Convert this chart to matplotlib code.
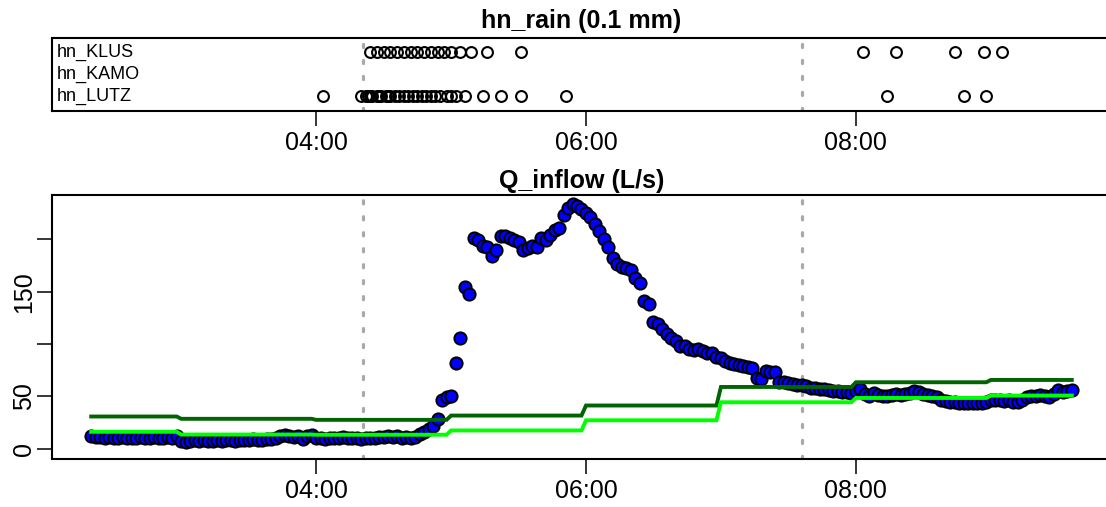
import numpy as np
import matplotlib
matplotlib.use("Agg")
import matplotlib.pyplot as plt
import matplotlib.dates as mdates
from datetime import datetime, timedelta

plt.rcParams['font.family'] = ['Liberation Sans', 'DejaVu Sans']

BASE_DAY = datetime(2000, 1, 1)


def hm(s):
    h, m = s.split(":")
    return BASE_DAY + timedelta(hours=int(h), minutes=int(m))


# ---------------- data ----------------
rain_stations = ["hn_KLUS", "hn_KAMO", "hn_LUTZ"]
rain_klus = ["04:24", "04:27", "04:30", "04:33", "04:36", "04:39", "04:42",
             "04:45", "04:48", "04:51", "04:54", "04:57", "05:00", "05:04",
             "05:09", "05:16", "05:31", "08:03", "08:18", "08:44", "08:57",
             "09:05"]
rain_kamo = []
rain_lutz = ["04:03", "04:20", "04:22", "04:23", "04:24", "04:25", "04:27",
             "04:28", "04:29", "04:31", "04:32", "04:33", "04:35", "04:37",
             "04:39", "04:41", "04:43", "04:45", "04:47", "04:49", "04:51",
             "04:53", "04:55", "04:58", "05:00", "05:02", "05:06", "05:14",
             "05:22", "05:31", "05:51", "08:14", "08:48", "08:58"]

# measured inflow, one value every 2 minutes starting at 02:20
flow_start = "02:20"
flow_step_min = 2
q_inflow = [
    12, 11, 11, 10, 11,      # 02:20
    10, 10, 11, 10, 10,      # 02:30
    10, 11, 10, 10, 11,      # 02:40
    10, 10, 11, 10, 12,      # 02:50
    7, 6, 7, 8, 7,           # 03:00
    8, 7, 7, 8, 7,           # 03:10
    8, 8, 7, 8, 8,           # 03:20
    8, 9, 8, 8, 9,           # 03:30
    9, 10, 12, 13, 12,       # 03:40
    11, 12, 9, 12, 13,       # 03:50
    10, 10, 9, 10, 10,       # 04:00
    10, 11, 10, 10, 10,      # 04:10
    9, 10, 10, 10, 11,       # 04:20
    11, 12, 11, 12, 10,      # 04:30
    11, 10, 11, 14, 16,      # 04:40
    19, 22, 28, 47, 49,      # 04:50
    50, 82, 106, 154, 148,   # 05:00
    201, 199, 194, 193, 184,  # 05:10
    190, 203, 203, 201, 199,  # 05:20
    197, 190, 192, 194, 193,  # 05:30
    201, 199, 204, 209, 211,  # 05:40
    223, 230, 234, 232, 229,  # 05:50
    225, 221, 215, 208, 200,  # 06:00
    193, 182, 176, 174, 173,  # 06:10
    171, 163, 158, 141, 138,  # 06:20
    121, 119, 114, 110, 106,  # 06:30
    103, 98, 98, 95, 94,     # 06:40
    95, 93, 91, 91, 88,      # 06:50
    87, 84, 82, 81, 80,      # 07:00
    79, 78, 77, 68, 67,      # 07:10
    74, 73, 73, 64, 64,      # 07:20
    63, 62, 61, 61, 60,      # 07:30
    58, 58, 57, 57, 56,      # 07:40
    55, 55, 54, 54, 53,      # 07:50
    55, 57, 52, 50, 53,      # 08:00
    51, 50, 50, 51, 52,      # 08:10
    51, 52, 53, 55, 54,      # 08:20
    52, 51, 50, 49, 47,      # 08:30
    46, 45, 45, 44, 44,      # 08:40
    44, 44, 44, 44, 45,      # 08:50
    47, 47, 47, 46, 47,      # 09:00
    45, 45, 47, 49, 50,      # 09:10
    50, 51, 50, 49, 52,      # 09:20
    56, 54, 55, 56,          # 09:30
]

# hourly reference levels (upper / lower)
ref_hours = ["02:00", "03:00", "04:00", "05:00", "06:00", "07:00", "08:00", "09:00"]
q_upper = [30.8, 28.6, 27.6, 31.7, 41.3, 59.0, 63.5, 65.7]
q_lower = [16.2, 13.6, 13.4, 17.5, 27.2, 44.4, 48.5, 50.8]

event_marks = ["04:21", "07:36"]
x_ticks = ["04:00", "06:00", "08:00"]
y_ticks = [0, 50, 100, 150, 200]
y_tick_labels = ["0", "50", "", "150", ""]

# ---------------- derived series ----------------
step = timedelta(minutes=flow_step_min)
flow_times = [hm(flow_start) + i * step for i in range(len(q_inflow))]
t_first, t_last = flow_times[0], flow_times[-1]


def hourly_path(hours, values):
    xs, ys = [t_first], [values[0]]
    for i in range(1, len(hours)):
        h = hm(hours[i])
        xs += [h - step, h]
        ys += [values[i - 1], values[i]]
    xs.append(t_last)
    ys.append(values[-1])
    return xs, ys


span = t_last - t_first
xlim = (t_first - 0.04 * span, t_last + 0.04 * span)

# ---------------- figure ----------------
W, H = 1106, 507
fig = plt.figure(figsize=(W / 100, H / 100), dpi=100)
left_px, right_px = 52, 1111
ax_top = fig.add_axes([left_px / W, 1 - 111 / H, (right_px - left_px) / W, 73.5 / H])
ax_bot = fig.add_axes([left_px / W, 1 - 458.5 / H, (right_px - left_px) / W, 263.5 / H])

tick_fs = 18
title_fs = 18
for ax in (ax_top, ax_bot):
    ax.set_xlim(*xlim)
    for sp in ax.spines.values():
        sp.set_linewidth(1.5)
    ax.set_xticks([hm(t) for t in x_ticks])
    ax.xaxis.set_major_formatter(mdates.DateFormatter("%H:%M"))
    ax.tick_params(axis="x", direction="out", length=10.5, width=1.1,
                   labelsize=tick_fs, pad=4)
    ax.tick_params(axis="y", direction="out", length=10.5, width=1.1,
                   labelsize=tick_fs, pad=1)
    for ev in event_marks:
        ax.axvline(hm(ev), color="#A9A9A9", lw=2.3, linestyle=(0, (1.0, 4.0)),
                   dash_capstyle="round", zorder=1)

# rain panel
rows = {"hn_KLUS": (3, rain_klus), "hn_KAMO": (2, rain_kamo), "hn_LUTZ": (1, rain_lutz)}
for name in rain_stations:
    yrow, times = rows[name]
    if times:
        ax_top.plot([hm(t) for t in times], [yrow] * len(times), "o",
                    mfc="none", mec="black", ms=7.8, mew=1.5, zorder=3)
    ax_top.text(0.0045, yrow, name, transform=ax_top.get_yaxis_transform(),
                ha="left", va="center", fontsize=13)
ax_top.set_ylim(0.32, 3.68)
ax_top.set_yticks([])
ax_top.set_title("hn_rain (0.1 mm)", fontsize=title_fs, fontweight="bold", pad=7)

# inflow panel
ax_bot.plot(flow_times, q_inflow, "o", mfc="#0000FF", mec="black", ms=8.8,
            mew=1.4, zorder=3)
xs, ys = hourly_path(ref_hours, q_upper)
ax_bot.plot(xs, ys, color="#006400", lw=2.8, zorder=4, solid_joinstyle="miter")
xs, ys = hourly_path(ref_hours, q_lower)
ax_bot.plot(xs, ys, color="#00FF00", lw=2.8, zorder=4, solid_joinstyle="miter")
ax_bot.set_ylim(-9.3, 242.3)
ax_bot.set_yticks(y_ticks)
ax_bot.set_yticklabels(y_tick_labels, rotation=90, va="center")
ax_bot.set_title("Q_inflow (L/s)", fontsize=title_fs, fontweight="bold", pad=5)

fig.savefig("out.png", dpi=100)
